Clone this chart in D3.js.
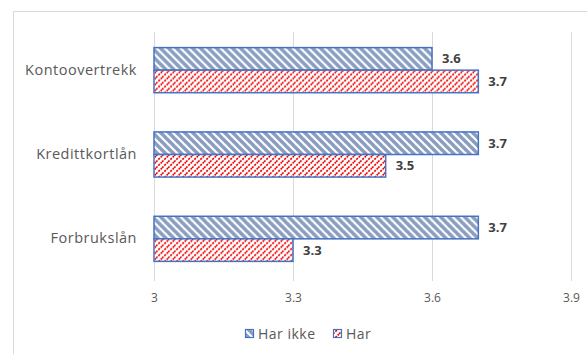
<!DOCTYPE html>
<html>
<head>
<meta charset="utf-8">
<script src="https://cdn.jsdelivr.net/npm/d3@7"></script>
<style>
  html, body { margin: 0; padding: 0; background: #fff; }
  svg { display: block; }
</style>
</head>
<body>
<svg id="chart" width="587" height="354"></svg>
<script>
// Loan types and mean scores for the two respondent groups
const categories = ["Kontoovertrekk", "Kredittkortlån", "Forbrukslån"];
const seriesNames = ["Har ikke", "Har"];
const harIkke = [3.6, 3.7, 3.7];
const har = [3.7, 3.5, 3.3];
const xTicks = [3, 3.3, 3.6, 3.9];

const svg = d3.select("#chart");
const W = 587, H = 354;
const fontFam = "'Open Sans', Lato, sans-serif";

// Patterned fills
const defs = svg.append("defs");
const pBlue = defs.append("pattern")
  .attr("id", "pat-harikke").attr("patternUnits", "userSpaceOnUse")
  .attr("width", 8).attr("height", 8);
pBlue.append("rect").attr("width", 8).attr("height", 8).attr("fill", "#fff");
[-8, 0, 8].forEach(dx => {
  pBlue.append("line")
    .attr("x1", dx - 1).attr("y1", -1).attr("x2", dx + 9).attr("y2", 9)
    .attr("stroke", "#8A9EC0").attr("stroke-width", 3.6);
});

const pRed = defs.append("pattern")
  .attr("id", "pat-har").attr("patternUnits", "userSpaceOnUse")
  .attr("width", 6).attr("height", 6);
pRed.append("rect").attr("width", 6).attr("height", 6).attr("fill", "#fff");
[-6, 0, 6].forEach(dx => {
  pRed.append("line")
    .attr("x1", dx).attr("y1", 6).attr("x2", dx + 6).attr("y2", 0)
    .attr("stroke", "#F00000").attr("stroke-width", 1.6)
    .attr("stroke-dasharray", "2.2,1.1");
});

// Chart frame
svg.append("rect")
  .attr("x", 13.5).attr("y", 11.5).attr("width", W).attr("height", H)
  .attr("fill", "#fff").attr("stroke", "#D9D9D9").attr("stroke-width", 1);

const plot = { left: 154, right: 571, top: 28, bottom: 281 };

const x = d3.scaleLinear().domain([3, 3.9]).range([plot.left, plot.right]);
const y = d3.scaleBand().domain(categories).range([plot.top, plot.bottom]).paddingInner(0.465).paddingOuter(0.2325);
const ySub = d3.scaleBand().domain(seriesNames).range([0, y.bandwidth()]);

// Vertical gridlines
svg.append("g").selectAll("line").data(xTicks).join("line")
  .attr("x1", d => Math.round(x(d)) + 0.5).attr("x2", d => Math.round(x(d)) + 0.5)
  .attr("y1", 32).attr("y2", plot.bottom)
  .attr("stroke", "#D9D9D9").attr("stroke-width", 1);

// X axis tick labels
const xAxis = d3.axisBottom(x).tickValues(xTicks).tickSize(0).tickPadding(0).tickFormat(d3.format("~g"));
const gx = svg.append("g").attr("transform", `translate(0,${plot.bottom})`).call(xAxis);
gx.select(".domain").remove();
gx.selectAll("text")
  .attr("dy", null).attr("y", 21)
  .attr("fill", "#595959").attr("font-size", 12).attr("font-family", fontFam);

// Category labels
const yAxis = d3.axisLeft(y).tickSize(0).tickPadding(17);
const gy = svg.append("g").attr("transform", `translate(${plot.left},0)`).call(yAxis);
gy.select(".domain").remove();
gy.selectAll("text")
  .attr("fill", "#595959").attr("font-size", 14.5).attr("letter-spacing", 0.5)
  .attr("font-family", fontFam);

// Bars
const rows = categories.map((c, i) => ({ cat: c, values: [
  { s: "Har ikke", v: harIkke[i], fill: "url(#pat-harikke)" },
  { s: "Har", v: har[i], fill: "url(#pat-har)" }
]}));

const groups = svg.append("g").selectAll("g").data(rows).join("g")
  .attr("transform", d => `translate(0,${y(d.cat)})`);

groups.selectAll("rect").data(d => d.values).join("rect")
  .attr("x", x(3))
  .attr("y", d => ySub(d.s))
  .attr("width", d => x(d.v) - x(3))
  .attr("height", ySub.bandwidth())
  .attr("fill", d => d.fill)
  .attr("stroke", "#4472C4").attr("stroke-width", 1.5);

groups.selectAll("text").data(d => d.values).join("text")
  .attr("x", d => x(d.v) + 10)
  .attr("y", d => ySub(d.s) + ySub.bandwidth() / 2)
  .attr("dy", "0.35em")
  .attr("fill", "#404040").attr("font-size", 13).attr("font-weight", "bold")
  .attr("font-family", fontFam)
  .text(d => d3.format(".1f")(d.v));

// Legend
const legend = svg.append("g").attr("transform", "translate(245,334)");
const legendItems = [
  { s: "Har ikke", fill: "url(#pat-harikke)", x: 0 },
  { s: "Har", fill: "url(#pat-har)", x: 88 }
];
const li = legend.selectAll("g").data(legendItems).join("g")
  .attr("transform", d => `translate(${d.x},0)`);
li.append("rect").attr("x", 0.5).attr("y", -4.5).attr("width", 8).attr("height", 8)
  .attr("fill", d => d.fill).attr("stroke", "#4472C4").attr("stroke-width", 1.2);
li.append("text").attr("x", 13).attr("y", 0).attr("dy", "0.35em")
  .attr("fill", "#595959").attr("font-size", 14).attr("letter-spacing", 0.5)
  .attr("font-family", fontFam)
  .text(d => d.s);
</script>
</body>
</html>
